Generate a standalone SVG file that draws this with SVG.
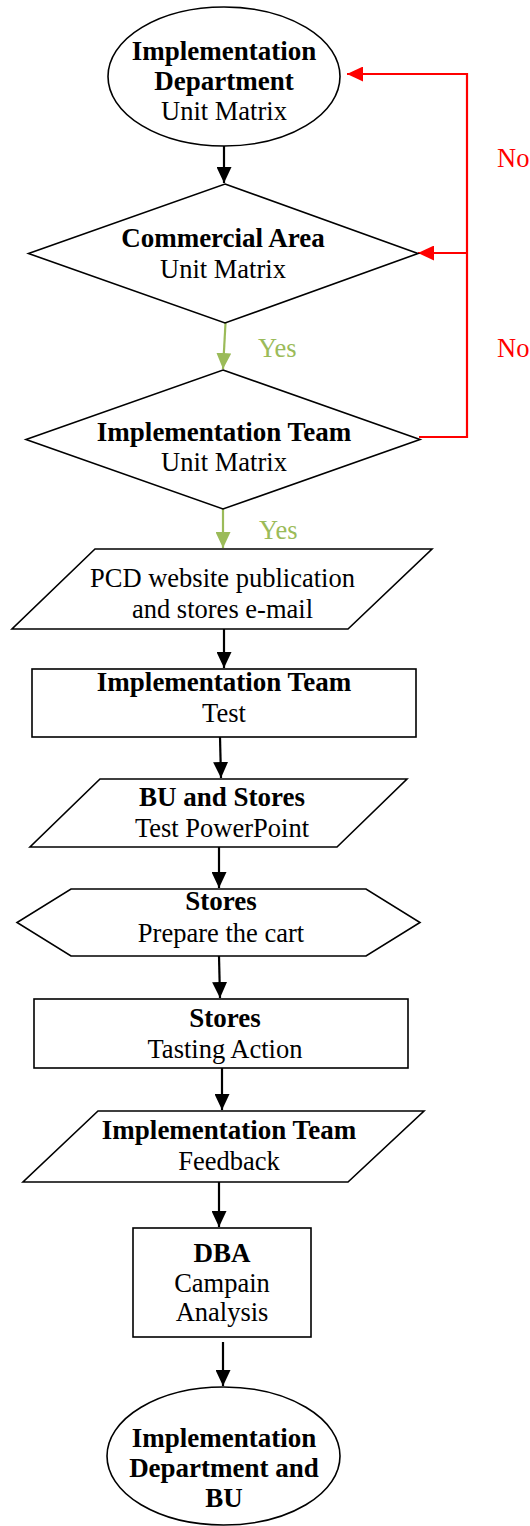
<svg xmlns="http://www.w3.org/2000/svg" width="530" height="1526" viewBox="0 0 530 1526">
<style>
.shape{fill:#fff;stroke:#000;stroke-width:1.6}
.t{font-family:"Liberation Serif","Times New Roman",serif;font-size:26.5px;fill:#000;text-anchor:middle}
.b{font-weight:bold;font-size:27px}
.conn{fill:none;stroke-width:2.2}
.k{stroke:#000}
.g{stroke:#9BBB59}
.r{stroke:#FF0000}
.lg{font-family:"Liberation Serif","Times New Roman",serif;font-size:26.5px;fill:#9BBB59}
.lr{font-family:"Liberation Serif","Times New Roman",serif;font-size:26.5px;fill:#FF0000}
</style>
<defs>
<marker id="ak" markerUnits="userSpaceOnUse" markerWidth="16" markerHeight="15" refX="16" refY="7.5" orient="auto"><path d="M0,0 L16,7.5 L0,15 z" fill="#000"/></marker>
<marker id="ag" markerUnits="userSpaceOnUse" markerWidth="16" markerHeight="15" refX="16" refY="7.5" orient="auto"><path d="M0,0 L16,7.5 L0,15 z" fill="#9BBB59"/></marker>
<marker id="ar" markerUnits="userSpaceOnUse" markerWidth="16" markerHeight="15" refX="16" refY="7.5" orient="auto"><path d="M0,0 L16,7.5 L0,15 z" fill="#FF0000"/></marker>
</defs>
<g id="connectors">
<line class="conn k" x1="224" y1="146" x2="224" y2="183" marker-end="url(#ak)"/>
<line class="conn g" x1="225.5" y1="323" x2="223" y2="369" marker-end="url(#ag)"/>
<line class="conn g" x1="223" y1="509" x2="223" y2="548" marker-end="url(#ag)"/>
<line class="conn k" x1="224" y1="629" x2="224" y2="668" marker-end="url(#ak)"/>
<line class="conn k" x1="220" y1="737" x2="221" y2="778" marker-end="url(#ak)"/>
<line class="conn k" x1="219" y1="847" x2="219" y2="888" marker-end="url(#ak)"/>
<line class="conn k" x1="219" y1="956" x2="220" y2="998" marker-end="url(#ak)"/>
<line class="conn k" x1="222" y1="1068" x2="222" y2="1110" marker-end="url(#ak)"/>
<line class="conn k" x1="219" y1="1182" x2="219" y2="1227" marker-end="url(#ak)"/>
<line class="conn k" x1="223" y1="1342" x2="223" y2="1386" marker-end="url(#ak)"/>
<polyline class="conn r" points="419,437 467,437 467,74 347,74" marker-end="url(#ar)"/>
<line class="conn r" x1="467" y1="253" x2="418" y2="253" marker-end="url(#ar)"/>
<text class="lg" x="258" y="357">Yes</text>
<text class="lg" x="259" y="539">Yes</text>
<text class="lr" x="497" y="167">No</text>
<text class="lr" x="497" y="357">No</text>
</g>
<g id="start">
<ellipse class="shape" cx="224" cy="76.5" rx="116" ry="69.5"/>
<text class="t b" x="224" y="60">Implementation</text>
<text class="t b" x="224" y="90">Department</text>
<text class="t" x="224" y="120">Unit Matrix</text>
</g>
<g id="commercial">
<polygon class="shape" points="225,184 418,253.5 225,323 28.5,253.5"/>
<text class="t b" x="223" y="247">Commercial Area</text>
<text class="t" x="223" y="278">Unit Matrix</text>
</g>
<g id="impteam-decision">
<polygon class="shape" points="223,370 420,439.5 223,509 26,439.5"/>
<text class="t b" x="224" y="441">Implementation Team</text>
<text class="t" x="224" y="471">Unit Matrix</text>
</g>
<g id="publication">
<polygon class="shape" points="95,549 432,549 348,629 12,629"/>
<text class="t" x="222.5" y="587">PCD website publication</text>
<text class="t" x="222.5" y="618">and stores e-mail</text>
</g>
<g id="test">
<rect class="shape" x="32" y="669" width="384" height="68"/>
<text class="t b" x="224" y="691">Implementation Team</text>
<text class="t" x="224" y="722">Test</text>
</g>
<g id="powerpoint">
<polygon class="shape" points="100,779 407,779 337,847 30,847"/>
<text class="t b" x="222" y="806">BU and Stores</text>
<text class="t" x="222" y="837">Test PowerPoint</text>
</g>
<g id="cart">
<polygon class="shape" points="71,889 366,889 420,922.5 366,956 71,956 17,922.5"/>
<text class="t b" x="221" y="910">Stores</text>
<text class="t" x="221" y="942">Prepare the cart</text>
</g>
<g id="tasting">
<rect class="shape" x="34" y="999" width="374" height="69"/>
<text class="t b" x="225" y="1027">Stores</text>
<text class="t" x="225" y="1058">Tasting Action</text>
</g>
<g id="feedback">
<polygon class="shape" points="98,1111 424,1111 348,1182 23,1182"/>
<text class="t b" x="229" y="1139">Implementation Team</text>
<text class="t" x="229" y="1170">Feedback</text>
</g>
<g id="dba">
<rect class="shape" x="133" y="1228" width="178" height="109"/>
<text class="t b" x="222" y="1262">DBA</text>
<text class="t" x="222" y="1292">Campain</text>
<text class="t" x="222" y="1321">Analysis</text>
</g>
<g id="end">
<ellipse class="shape" cx="223.5" cy="1456" rx="116.5" ry="69"/>
<text class="t b" x="224" y="1447">Implementation</text>
<text class="t b" x="224" y="1477">Department and</text>
<text class="t b" x="224" y="1507">BU</text>
</g>
</svg>
